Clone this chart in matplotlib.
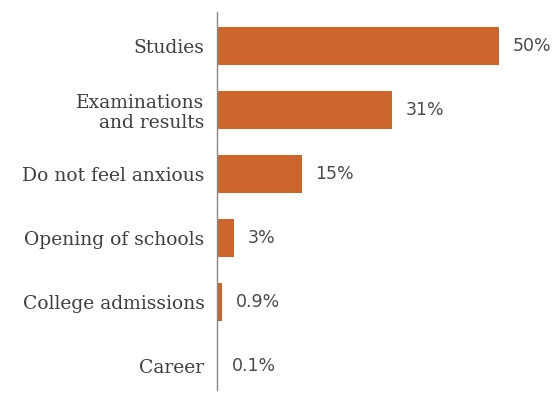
import matplotlib.pyplot as plt

categories = ['Studies', 'Examinations\nand results', 'Do not feel anxious',
              'Opening of schools', 'College admissions', 'Career']
values = [50, 31, 15, 3, 0.9, 0.1]
value_labels = ['50%', '31%', '15%', '3%', '0.9%', '0.1%']

bar_color = '#CB652B'
text_color = '#3f3f3f'

fig = plt.figure(figsize=(5.55, 3.96), dpi=100)
ax = fig.add_axes([0.391, 6 / 396, 0.609, 378 / 396])

ypos = list(range(len(categories)))
ax.barh(ypos, values, height=0.6, color=bar_color)

for y, v, lab in zip(ypos, values, value_labels):
    ax.annotate(lab, (v, y), xytext=(10, 0), textcoords='offset points',
                va='center', ha='left', fontsize=12.5, color='#4a4a4a',
                family='DejaVu Sans')

ax.set_xlim(0, 60)
ax.set_ylim(5.37, -0.53)
ax.set_yticks(ypos)
ax.set_yticklabels(categories, fontsize=13.5, color=text_color,
                   family=['DejaVu Serif', 'Liberation Serif'], linespacing=1.15)
ax.tick_params(axis='y', length=0, pad=9)
ax.set_xticks([])

for s in ['top', 'right', 'bottom']:
    ax.spines[s].set_visible(False)
ax.spines['left'].set_color('#888888')
ax.spines['left'].set_linewidth(1)

fig.savefig('out.png', dpi=100)
